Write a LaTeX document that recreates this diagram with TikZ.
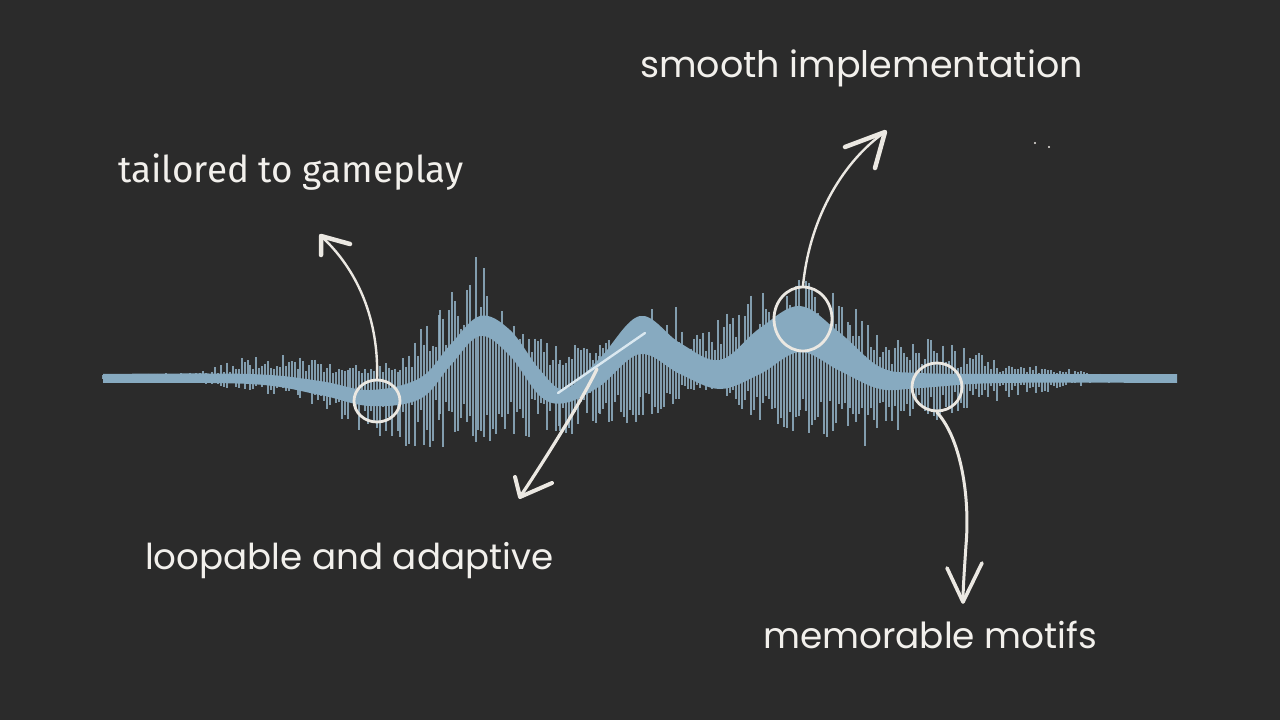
\documentclass[tikz,border=0pt]{standalone}
\usepackage{fontspec}
\newfontfamily\popfont{Poppins}
\newfontfamily\firafont{Fira Sans}
\usetikzlibrary{shapes.geometric}
\definecolor{bgcol}{RGB}{43,43,43}
\definecolor{bandcol}{RGB}{135,170,192}
\definecolor{spikecol}{RGB}{146,178,198}
\definecolor{pencol}{RGB}{235,232,226}
\definecolor{txtcol}{RGB}{242,240,236}
\definecolor{linecol}{RGB}{218,232,240}
\tikzset{
  spike/.style={spikecol, line width=1.7bp, opacity=0.85},
  band/.style={fill=bandcol},
  ring/.style={ellipse, draw=pencol, line width=2.8bp, inner sep=0pt},
  pen/.style={draw=pencol, line width=2.4bp, line cap=round, line join=round},
  head/.style={draw=pencol, line width=4.5bp, line cap=round, line join=round},
  label/.style={text=txtcol, anchor=base west, inner sep=0pt},
}
\begin{document}
\begin{tikzpicture}[x=1bp, y=-1bp]
\useasboundingbox (0,0) rectangle (1280,720);
\fill[bgcol] (0,0) rectangle (1280,720);

% spikes of the waveform
\pgfmathsetseed{7}
\foreach \xa/\ta/\ba/\xb/\tb/\bb in {
  103/3/3/200/6/5, 200/6/5/250/28/14, 250/28/14/300/23/22, 300/23/22/350/13/50,
  350/13/50/400/18/67, 400/18/67/440/78/72, 440/78/72/478/126/69, 478/126/69/520/48/62,
  520/48/62/560/33/62, 560/33/62/600/38/45, 600/38/45/640/73/47, 640/73/47/700/72/14,
  700/72/14/760/90/42, 760/90/42/800/108/62, 800/108/62/850/78/77, 850/78/77/880/48/72,
  880/48/72/940/38/42, 940/38/42/1000/18/22, 1000/18/22/1100/5/5, 1100/5/5/1177/3/3}{
  \pgfmathtruncatemacro\xaa{\xa+3}
  \pgfmathtruncatemacro\xbb{\xb-1}
  \foreach \x in {\xa,\xaa,...,\xbb}{
    \pgfmathsetmacro\tt{\ta+(\tb-\ta)*(\x-\xa)/(\xb-\xa)}
    \pgfmathsetmacro\bt{\ba+(\bb-\ba)*(\x-\xa)/(\xb-\xa)}
    \pgfmathsetmacro\ra{0.3+0.7*rnd}
    \pgfmathsetmacro\rb{0.3+0.7*rnd}
    \draw[spike] (\x,{378-\tt*\ra}) -- (\x,{378+\bt*\rb});
  }
}

% smooth band
\fill[band] plot[smooth, tension=0.6] coordinates {
  (103,374) (250,374) (320,381) (370,390) (420,378) (450,345) (480,316) (510,330)
  (540,370) (565,389) (600,358) (640,316) (680,343) (720,360) (760,328) (800,306)
  (840,333) (880,367) (920,373) (1000,374) (1177,374)}
  -- plot[smooth, tension=0.6] coordinates {
  (1177,383) (1000,383) (920,388) (880,389) (840,371) (800,352) (760,374) (720,389)
  (680,374) (640,354) (600,386) (565,403) (540,396) (510,356) (480,336) (450,366)
  (420,399) (370,406) (320,395) (250,384) (103,383)} -- cycle;

% labels
\node[label, font=\firafont\fontsize{37}{40}\selectfont] (tailored) at (118,183) {tailored to gameplay};
\node[label, font=\popfont\fontsize{36.6}{40}\selectfont] (smooth) at (640,78) {smooth implementation};
\node[label, font=\popfont\fontsize{35.8}{40}\selectfont] (loop) at (145,569) {loopable and adaptive};
\node[label, font=\popfont\fontsize{36}{40}\selectfont] (motifs) at (763,648) {memorable motifs};

% rings
\node[ring, minimum width=46bp, minimum height=42bp] (c1) at (377,401) {};
\node[ring, minimum width=58bp, minimum height=64bp] (c3) at (803,319) {};
\node[ring, minimum width=50bp, minimum height=48bp] (c4) at (937,387) {};

% arrow 1
\coordinate (t1) at (321,236);
\draw[pen] (c1.north) .. controls (379,320) and (358,270) .. (t1);
\draw[head] (350,244) -- (t1) -- (321,255);

% arrow 2 with the short line
\coordinate (l2a) at (558,393);
\coordinate (l2b) at (645,333);
\draw[linecol, line width=2.4bp, line cap=round] (l2a) -- (l2b);
\coordinate (s2) at (597,369);
\coordinate (t2) at (520,497);
\draw[pen, line width=3.2bp] (s2) .. controls (582,400) and (548,455) .. (t2);
\draw[head, line width=4bp] (515,477) -- (t2) -- (552,483);

% arrow 3
\coordinate (t3) at (885,132);
\draw[pen] (c3.north) .. controls (810,215) and (845,160) .. (t3);
\draw[head] (845,147) -- (t3) -- (875,168);

% arrow 4
\coordinate (t4) at (963,602);
\draw[pen, line width=3bp] (c4.south) .. controls (962,440) and (970,500) .. (966,545) .. controls (964,575) and (963,590) .. (t4);
\draw[head, line width=3.6bp] (947,568) -- (t4) -- (982,563);

% specks
\fill[pencol] (1035,143) circle (1.2);
\fill[pencol] (1049,147) circle (1.2);
\end{tikzpicture}
\end{document}
